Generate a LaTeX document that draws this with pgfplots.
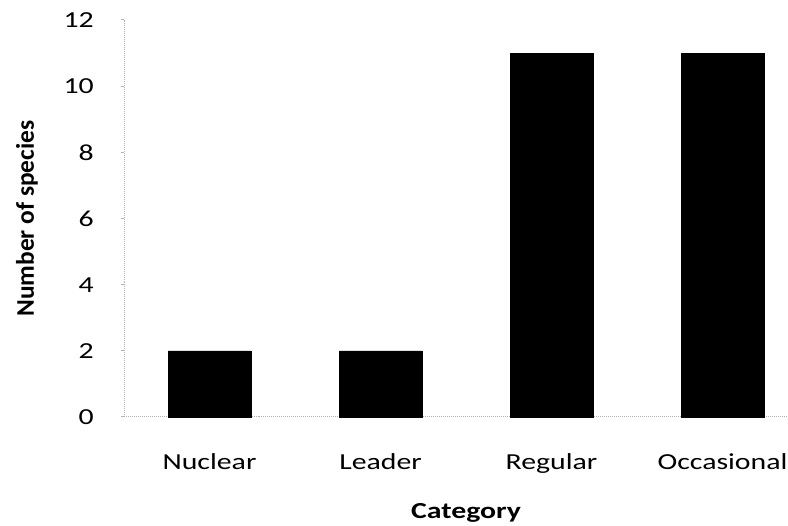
\documentclass[border=0pt]{standalone}
\usepackage{fontspec}
\setmainfont{Carlito}
\newfontfamily\wide[FakeStretch=1.3]{Carlito}
\usepackage{pgfplots}
\pgfplotsset{compat=1.18}
\begin{document}
\begin{tikzpicture}[x=1bp,y=1bp]
\useasboundingbox (0,0) rectangle (788,526);
\begin{axis}[
  at={(124bp,109bp)}, anchor=south west,
  scale only axis, width=664bp, height=397bp,
  xmin=-0.5, xmax=3.383, ymin=0, ymax=12,
  ybar, bar width=83bp,
  xtick={0,1,2,3},
  xticklabels={Nuclear,Leader,Regular,Occasional},
  ytick={0,2,...,12},
  axis x line*=bottom, axis y line*=left,
  axis line style={gray!60, densely dotted, line width=1pt, -},
  x tick style={draw=none},
  y tick style={gray!60, line width=1pt},
  ytick align=outside, major tick length=3bp,
  /pgf/number format/assume math mode=true,
  tick label style={font=\wide\fontsize{23}{28}\selectfont, inner sep=0pt},
  yticklabel style={xshift=-27bp},
  xticklabel style={yshift=-33bp},
  xlabel={Category},
  xlabel style={font=\wide\bfseries\fontsize{23}{28}\selectfont, inner sep=0pt,
    at={(axis cs:1.5,0)}, anchor=north, yshift=-86bp},
  ylabel={Number of species},
  ylabel style={font=\bfseries\fontsize{25.5}{30}\selectfont, inner sep=0pt,
    at={([xshift=-97bp]axis description cs:0,0.5)}, anchor=center},
  clip=false,
]
\addplot[fill=black, draw=black] coordinates {(0,2) (1,2) (2,11) (3,11)};
\end{axis}
\end{tikzpicture}
\end{document}
